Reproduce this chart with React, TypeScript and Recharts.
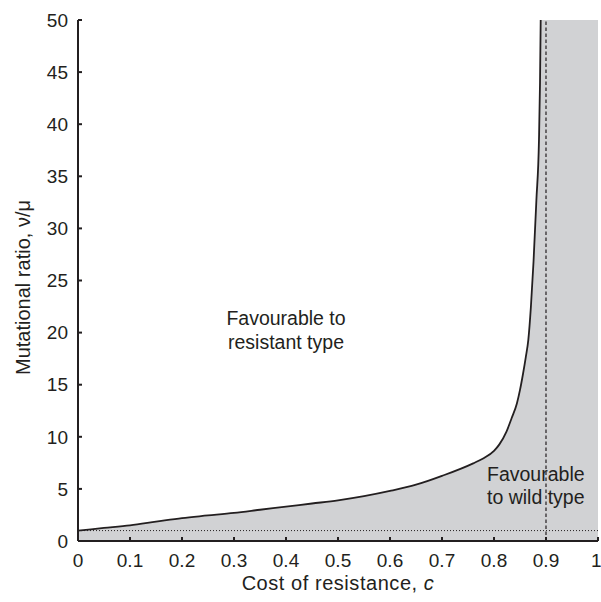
import { Area, ComposedChart, Line, ReferenceDot, ReferenceLine, XAxis, YAxis } from "recharts";

const INK = "#231f20";
const SHADE = "#d1d2d4";
const FONT = "'Liberation Sans', Arial, Helvetica, sans-serif";

// threshold curve
const costs = [0, 0.05, 0.1, 0.15, 0.2, 0.25, 0.3, 0.35, 0.4, 0.45, 0.5, 0.55, 0.6, 0.65, 0.7, 0.76, 0.78, 0.8, 0.81, 0.824, 0.834, 0.844, 0.85, 0.856, 0.861, 0.866, 0.871, 0.876, 0.8815, 0.8865, 0.8885, 0.8898];
const ratios = [1, 1.25, 1.5, 1.85, 2.2, 2.45, 2.7, 3.0, 3.3, 3.6, 3.9, 4.3, 4.8, 5.4, 6.25, 7.45, 7.95, 8.65, 9.25, 10.5, 11.8, 13.2, 14.5, 16.1, 17.6, 19.3, 22.5, 26.8, 32.7, 38.5, 44, 50];

const xTicks = [0, 0.1, 0.2, 0.3, 0.4, 0.5, 0.6, 0.7, 0.8, 0.9, 1];
const yTicks = [0, 5, 10, 15, 20, 25, 30, 35, 40, 45, 50];

const costLimit = 0.9;
const neutralRatio = 1;

const curve = costs.map((c, i) => ({ c, r: ratios[i] }));
// shaded region: under the curve, then across to the right edge
const shaded = [...curve, { c: 1, r: 50 }];

const regionLabels = [
  { c: 0.4, r: 20.7, lines: ["Favourable to", "resistant type"] },
  { c: 0.8804, r: 5.76, lines: ["Favourable", "to wild type"] }
];

function RegionText({ viewBox, lines }: any) {
  const cx = viewBox.x + viewBox.width / 2;
  const cy = viewBox.y + viewBox.height / 2;
  return (
    <text x={cx} y={cy} textAnchor="middle" fontFamily={FONT} fontSize={19.5} fill={INK}>
      <tspan x={cx} dy={0}>{lines[0]}</tspan>
      <tspan x={cx} dy={23.5}>{lines[1]}</tspan>
    </text>
  );
}

function XTitle({ viewBox }: any) {
  const cx = viewBox.x + viewBox.width / 2;
  return (
    <text x={cx} y={590} textAnchor="middle" fontFamily={FONT} fontSize={20} letterSpacing={0.55} fill={INK}>
      Cost of resistance, <tspan fontStyle="italic">c</tspan>
    </text>
  );
}

function YTitle() {
  const cy = 287.5;
  return (
    <text x={30} y={cy} textAnchor="middle" fontFamily={FONT} fontSize={20} fill={INK} transform={`rotate(-90, 30, ${cy})`}>
      Mutational ratio, ν/μ
    </text>
  );
}

export default function App() {
  return (
    <div style={{ position: "absolute", left: 0, top: 0, width: 601, height: 602, background: "#fff" }}>
      <ComposedChart width={601} height={602} margin={{ top: 20, right: 3, bottom: 21, left: 0 }}>
        <XAxis
          type="number"
          dataKey="c"
          domain={[0, 1]}
          ticks={xTicks}
          allowDataOverflow
          height={40}
          stroke={INK}
          strokeWidth={2}
          tickSize={-4}
          tickMargin={17}
          tick={{ fill: INK, fontSize: 19, fontFamily: FONT }}
          tickFormatter={(v) => String(v)}
          label={<XTitle />}
        />
        <YAxis
          type="number"
          dataKey="r"
          domain={[0, 50]}
          ticks={yTicks}
          allowDataOverflow
          width={78}
          stroke={INK}
          strokeWidth={2}
          tickSize={-4}
          tickMargin={14}
          tick={{ fill: INK, fontSize: 19, fontFamily: FONT }}
          label={<YTitle />}
        />
        <Area
          data={shaded}
          dataKey="r"
          type="monotone"
          stroke="none"
          fill={SHADE}
          fillOpacity={1}
          isAnimationActive={false}
        />
        <ReferenceLine y={neutralRatio} stroke={INK} strokeWidth={1} strokeDasharray="1 2" />
        <ReferenceLine x={costLimit} stroke={INK} strokeWidth={1.2} strokeDasharray="3.5 2.5" />
        <Line
          data={curve}
          dataKey="r"
          type="monotone"
          stroke={INK}
          strokeWidth={1.8}
          dot={false}
          activeDot={false}
          isAnimationActive={false}
        />
        {regionLabels.map((l) => (
          <ReferenceDot
            key={l.lines[0]}
            x={l.c}
            y={l.r}
            r={1}
            fill="none"
            stroke="none"
            label={<RegionText lines={l.lines} />}
          />
        ))}
      </ComposedChart>
    </div>
  );
}
